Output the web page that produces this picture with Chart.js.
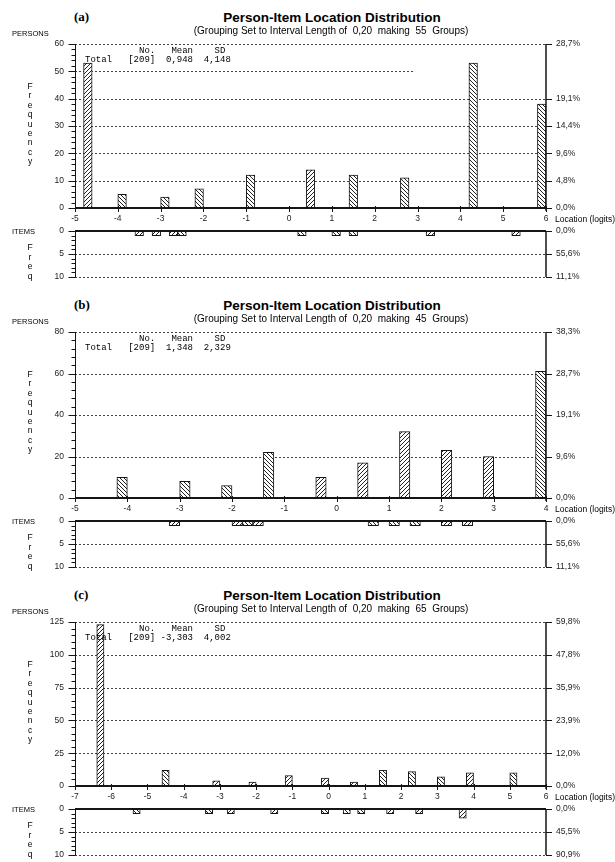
<!DOCTYPE html>
<html>
<head>
<meta charset="utf-8">
<script src="https://cdn.jsdelivr.net/npm/chart.js@4.4.1/dist/chart.umd.min.js"></script>
<style>
  html, body { margin: 0; padding: 0; background: #fff; }
  body { position: relative; width: 615px; height: 862px; overflow: hidden; }
  .t { position: absolute; white-space: pre; color: #000; line-height: 1; }
</style>
</head>
<body>
<script>
// ---------------- data ----------------
// Interval length of the grouping (logits)
const BIN = 0.2;

// Panel (a)
const groupsA = 55;
const xRangeA = [-5, 6];
const personLocA  = [-4.7, -3.9, -2.9, -2.1, -0.9, 0.5, 1.5, 2.7, 4.3, 5.9];
const personFreqA = [53, 5, 4, 7, 12, 14, 12, 11, 53, 38];
const itemLocA  = [-3.5, -3.1, -2.7, -2.5, 0.3, 1.1, 1.5, 3.3, 5.3];
const itemFreqA = [1, 1, 1, 1, 1, 1, 1, 1, 1];
const personMaxA = 60, personMajorA = 10, personMinorA = 2;
const pctValsA   = [60, 40, 30, 20, 10, 0];
const pctLabelsA = ['28,7%', '19,1%', '14,4%', '9,6%', '4,8%', '0,0%'];
const itemPctLabelsA = ['0,0%', '55,6%', '11,1%'];
const statsA = ['[209]', '0,948', '4,148'];

// Panel (b)
const groupsB = 45;
const xRangeB = [-5, 4];
const personLocB  = [-4.1, -2.9, -2.1, -1.3, -0.3, 0.5, 1.3, 2.1, 2.9, 3.9];
const personFreqB = [10, 8, 6, 22, 10, 17, 32, 23, 20, 61];
const itemLocB  = [-3.1, -1.9, -1.7, -1.5, 0.7, 1.1, 1.5, 2.1, 2.5];
const itemFreqB = [1, 1, 1, 1, 1, 1, 1, 1, 1];
const personMaxB = 80, personMajorB = 20, personMinorB = 4;
const pctValsB   = [80, 60, 40, 20, 0];
const pctLabelsB = ['38,3%', '28,7%', '19,1%', '9,6%', '0,0%'];
const itemPctLabelsB = ['0,0%', '55,6%', '11,1%'];
const statsB = ['[209]', '1,348', '2,329'];

// Panel (c)
const groupsC = 65;
const xRangeC = [-7, 6];
const personLocC  = [-6.3, -4.5, -3.1, -2.1, -1.1, -0.1, 0.7, 1.5, 2.3, 3.1, 3.9, 5.1];
const personFreqC = [123, 12, 4, 3, 8, 6, 3, 12, 11, 7, 10, 10];
const itemLocC  = [-5.3, -3.3, -2.7, -1.5, -0.1, 0.5, 0.9, 1.7, 2.5, 3.7];
const itemFreqC = [1, 1, 1, 1, 1, 1, 1, 1, 1, 2];
const personMaxC = 125, personMajorC = 25, personMinorC = 5;
const pctValsC   = [125, 100, 75, 50, 25, 0];
const pctLabelsC = ['59,8%', '47,8%', '35,9%', '23,9%', '12,0%', '0,0%'];
const itemPctLabelsC = ['0,0%', '45,5%', '90,9%'];
const statsC = ['[209]', '-3,303', '4,002'];

// Item axis (frequency scale is 0..10, hanging downwards)
const itemMax = 10, itemMajor = 5, itemMinor = 1;
const itemPctVals = [0, 5, 10];

// ---------------- styles ----------------
// hatch direction of each bar
const personHatchA = ['/', '\\', '\\', '\\', '\\', '/', '\\', '\\', '\\', '\\'];
const itemHatchA   = ['/', '/', '/', '\\', '\\', '\\', '\\', '/', '/'];
const personHatchB = ['\\', '\\', '\\', '\\', '/', '/', '/', '/', '/', '\\'];
const itemHatchB   = ['/', '/', '\\', '/', '\\', '\\', '\\', '/', '/'];
const personHatchC = ['/', '\\', '/', '/', '/', '/', '/', '\\', '\\', '\\', '/', '\\'];
const itemHatchC   = ['\\', '\\', '/', '/', '\\', '\\', '\\', '/', '/', '/'];

const W = 615;
const PLOT_L = 75, PLOT_R = 546;
const SANS = '"Liberation Sans", Arial, sans-serif';
const SERIF = '"Liberation Serif", "Times New Roman", serif';
const MONO = '"Liberation Mono", "Courier New", monospace';
const INK = '#151515';
const TICK_FONT = { family: SANS, size: 8.5 };

function hatchPattern(dir) {
  const s = 4, c = document.createElement('canvas');
  c.width = c.height = s;
  const g = c.getContext('2d');
  g.fillStyle = '#fff'; g.fillRect(0, 0, s, s);
  g.strokeStyle = '#222'; g.lineWidth = 1;
  g.beginPath();
  if (dir === '/') {
    g.moveTo(0, s); g.lineTo(s, 0);
    g.moveTo(-1, 1); g.lineTo(1, -1);
    g.moveTo(s - 1, s + 1); g.lineTo(s + 1, s - 1);
  } else {
    g.moveTo(0, 0); g.lineTo(s, s);
    g.moveTo(-1, s - 1); g.lineTo(1, s + 1);
    g.moveTo(s - 1, -1); g.lineTo(s + 1, 1);
  }
  g.stroke();
  return g.createPattern(c, 'repeat');
}
const PAT = { '/': hatchPattern('/'), '\\': hatchPattern('\\') };

// Axis frame, minor ticks and dashed reference lines, placed through the chart scales
const frame = {
  id: 'frame',
  beforeDatasetsDraw(chart, args, o) {
    const { ctx, chartArea: a, scales: { x, y } } = chart;
    ctx.save();
    ctx.strokeStyle = '#444'; ctx.lineWidth = 1; ctx.setLineDash([2, 2]);
    for (const g of o.grid) {
      const py = Math.round(y.getPixelForValue(g.v)) + 0.5;
      const xr = g.until !== undefined ? x.getPixelForValue(g.until) : a.right;
      ctx.beginPath(); ctx.moveTo(a.left, py); ctx.lineTo(xr, py); ctx.stroke();
    }
    ctx.restore();
  },
  afterDatasetsDraw(chart, args, o) {
    const { ctx, chartArea: a, scales: { x, y } } = chart;
    const seg = (x1, y1, x2, y2) => { ctx.beginPath(); ctx.moveTo(x1, y1); ctx.lineTo(x2, y2); ctx.stroke(); };
    ctx.save();
    ctx.strokeStyle = INK; ctx.setLineDash([]);
    const L = Math.round(a.left) + 0.5, R = Math.round(a.right);
    const top = Math.round(a.top), bot = Math.round(a.bottom);
    // left axis with major and minor ticks
    ctx.lineWidth = 1;
    seg(L, top, L, bot + o.ext);
    for (let v = y.min; v <= y.max + 1e-9; v += o.minor) {
      const py = Math.round(y.getPixelForValue(v)) + 0.5;
      const major = y.ticks.some(t => Math.abs(t.value - v) < 1e-9);
      seg(L - (major ? 7 : 4), py, L, py);
    }
    // right axis with ticks at the percentage labels
    ctx.lineWidth = 1.5;
    seg(R, top, R, bot + o.ext);
    ctx.lineWidth = 1;
    for (const v of o.right) {
      const py = Math.round(y.getPixelForValue(v)) + 0.5;
      seg(R, py, R + 6, py);
    }
    // zero line
    const y0 = Math.round(y.getPixelForValue(0));
    ctx.lineWidth = 2;
    seg(a.left, y0, R, y0);
    // logit ticks
    if (o.xTicks) {
      ctx.lineWidth = 1;
      for (const t of x.ticks) {
        const px = Math.round(x.getPixelForValue(t.value)) + 0.5;
        seg(px, y0 - 2, px, y0 + 4);
      }
    }
    ctx.restore();
  }
};

function addText(str, x, y, font, align) {
  const d = document.createElement('div');
  d.className = 't';
  d.textContent = str;
  d.style.font = font;
  d.style.left = x + 'px';
  d.style.top = y + 'px';
  d.style.transform = align === 'center' ? 'translate(-50%,-50%)' : 'translateY(-50%)';
  document.body.appendChild(d);
}

function makeCanvas(top, h) {
  const c = document.createElement('canvas');
  c.width = W; c.height = h;
  c.style.cssText = `position:absolute;left:0;top:${top}px;width:${W}px;height:${h}px`;
  document.body.appendChild(c);
  return c;
}

function fitBars(chart) {
  const x = chart.scales.x;
  chart.data.datasets[0].barThickness = x.getPixelForValue(BIN) - x.getPixelForValue(0);
  chart.update('none');
}

// keep the plot area fixed: no extra room for overhanging tick labels
function noPad(s) { s.paddingTop = 0; s.paddingBottom = 0; s.paddingLeft = 0; s.paddingRight = 0; }

function barChart(canvas, cfg) {
  const padT = cfg.padT, padB = cfg.padB;
  const ch = new Chart(canvas, {
    type: 'bar',
    data: {
      datasets: [{
        data: cfg.loc.map((v, i) => ({ x: v, y: cfg.freq[i] })),
        backgroundColor: cfg.hatch.map(h => PAT[h]),
        borderColor: INK,
        borderWidth: 1,
        borderSkipped: 'start'
      }]
    },
    options: {
      responsive: false, animation: false, devicePixelRatio: 1,
      events: [],
      layout: { padding: { top: padT, bottom: padB, left: 0, right: 0 } },
      plugins: {
        legend: { display: false }, tooltip: { enabled: false }, title: { display: false },
        frame: cfg.frame
      },
      scales: {
        x: {
          type: 'linear', display: cfg.showX, min: cfg.range[0], max: cfg.range[1], offset: false,
          grid: { display: false, drawTicks: false }, border: { display: false },
          ticks: { stepSize: 1, autoSkip: false, maxRotation: 0, color: '#222', font: TICK_FONT, padding: 6 },
          afterFit: s => { s.height = cfg.xH; noPad(s); }
        },
        y: {
          position: 'left', min: 0, max: cfg.ymax, reverse: cfg.reverse,
          grid: { display: false, drawTicks: false }, border: { display: false },
          ticks: { stepSize: cfg.major, autoSkip: false, color: '#222', font: TICK_FONT, padding: 11 },
          afterFit: s => { s.width = PLOT_L; noPad(s); }
        },
        y2: {
          position: 'right', min: 0, max: cfg.ymax, reverse: cfg.reverse,
          grid: { display: false, drawTicks: false }, border: { display: false },
          afterBuildTicks: s => { s.ticks = cfg.pctVals.map(v => ({ value: v })); },
          ticks: { autoSkip: false, color: '#222', font: TICK_FONT, padding: 10,
                   callback: (v, i) => cfg.pctLabels[i] },
          afterFit: s => { s.width = W - PLOT_R; noPad(s); }
        }
      }
    },
    plugins: [frame]
  });
  fitBars(ch);
  return ch;
}

function panel(p) {
  const top = p.top, base = p.base;
  const itemTop = base + 23;
  const itemBot = itemTop + 46;

  // persons histogram
  const padT = 10, xH = 20;
  const pc = makeCanvas(top - padT, base - top + padT + xH);
  const grid = [];
  for (let v = p.major; v <= p.ymax; v += p.major) {
    const g = { v };
    if (p.partial && p.partial.v === v) g.until = p.partial.until;
    grid.push(g);
  }
  barChart(pc, {
    loc: p.loc, freq: p.freq, hatch: p.hatch, range: p.range,
    ymax: p.ymax, major: p.major, reverse: false, showX: true, xH, padT, padB: 0,
    pctVals: p.pctVals, pctLabels: p.pctLabels,
    frame: { grid, minor: p.minor, right: p.pctVals, xTicks: true, ext: 3 }
  });

  // items histogram hanging below
  const ipad = 8;
  const ic = makeCanvas(itemTop - ipad, itemBot - itemTop + 2 * ipad);
  barChart(ic, {
    loc: p.iloc, freq: p.ifreq, hatch: p.ihatch, range: p.range,
    ymax: itemMax, major: itemMajor, reverse: true, showX: false, xH: 0, padT: ipad, padB: ipad,
    pctVals: itemPctVals, pctLabels: p.ipctLabels,
    frame: { grid: [{ v: 5 }, { v: 10 }], minor: itemMinor, right: itemPctVals, xTicks: false, ext: 0 }
  });

  // titles and side labels
  addText(p.tag, 74, top - 27, `bold 13px ${SERIF}`);
  addText('Person-Item Location Distribution', 332, top - 27, `bold 13.5px ${SANS}`, 'center');
  addText(`(Grouping Set to Interval Length of  0,20  making  ${p.groups}  Groups)`, 331, top - 14.5, `10px ${SANS}`, 'center');
  addText('PERSONS', 12, top - 11, `7.5px ${SANS}`);
  addText('ITEMS', 12, itemTop, `7.5px ${SANS}`);
  addText('Location (logits)', 555, base + 11, `8.5px ${SANS}`);
  'Frequency'.split('').forEach((ch, i) => addText(ch, 30, top + 42 + i * 9.4, `8.5px ${SANS}`, 'center'));
  'Freq'.split('').forEach((ch, i) => addText(ch, 30, itemTop + 16 + i * 9.5, `8.5px ${SANS}`, 'center'));

  // summary statistics
  addText('          No.   Mean    SD', 85, top + 7, `9px ${MONO}`);
  const s = p.stats;
  const line = 'Total   ' + s[0] + (s[1].startsWith('-') ? ' ' : '  ') + s[1] + '  ' + s[2];
  addText(line, 85, top + 16, `9px ${MONO}`);
}

panel({ tag: '(a)', top: 44, base: 208, groups: groupsA, range: xRangeA,
        loc: personLocA, freq: personFreqA, hatch: personHatchA,
        iloc: itemLocA, ifreq: itemFreqA, ihatch: itemHatchA,
        ymax: personMaxA, major: personMajorA, minor: personMinorA,
        pctVals: pctValsA, pctLabels: pctLabelsA, ipctLabels: itemPctLabelsA,
        stats: statsA, partial: { v: 50, until: 2.9 } });

panel({ tag: '(b)', top: 332, base: 498, groups: groupsB, range: xRangeB,
        loc: personLocB, freq: personFreqB, hatch: personHatchB,
        iloc: itemLocB, ifreq: itemFreqB, ihatch: itemHatchB,
        ymax: personMaxB, major: personMajorB, minor: personMinorB,
        pctVals: pctValsB, pctLabels: pctLabelsB, ipctLabels: itemPctLabelsB,
        stats: statsB });

panel({ tag: '(c)', top: 622, base: 786, groups: groupsC, range: xRangeC,
        loc: personLocC, freq: personFreqC, hatch: personHatchC,
        iloc: itemLocC, ifreq: itemFreqC, ihatch: itemHatchC,
        ymax: personMaxC, major: personMajorC, minor: personMinorC,
        pctVals: pctValsC, pctLabels: pctLabelsC, ipctLabels: itemPctLabelsC,
        stats: statsC });
</script>
</body>
</html>
